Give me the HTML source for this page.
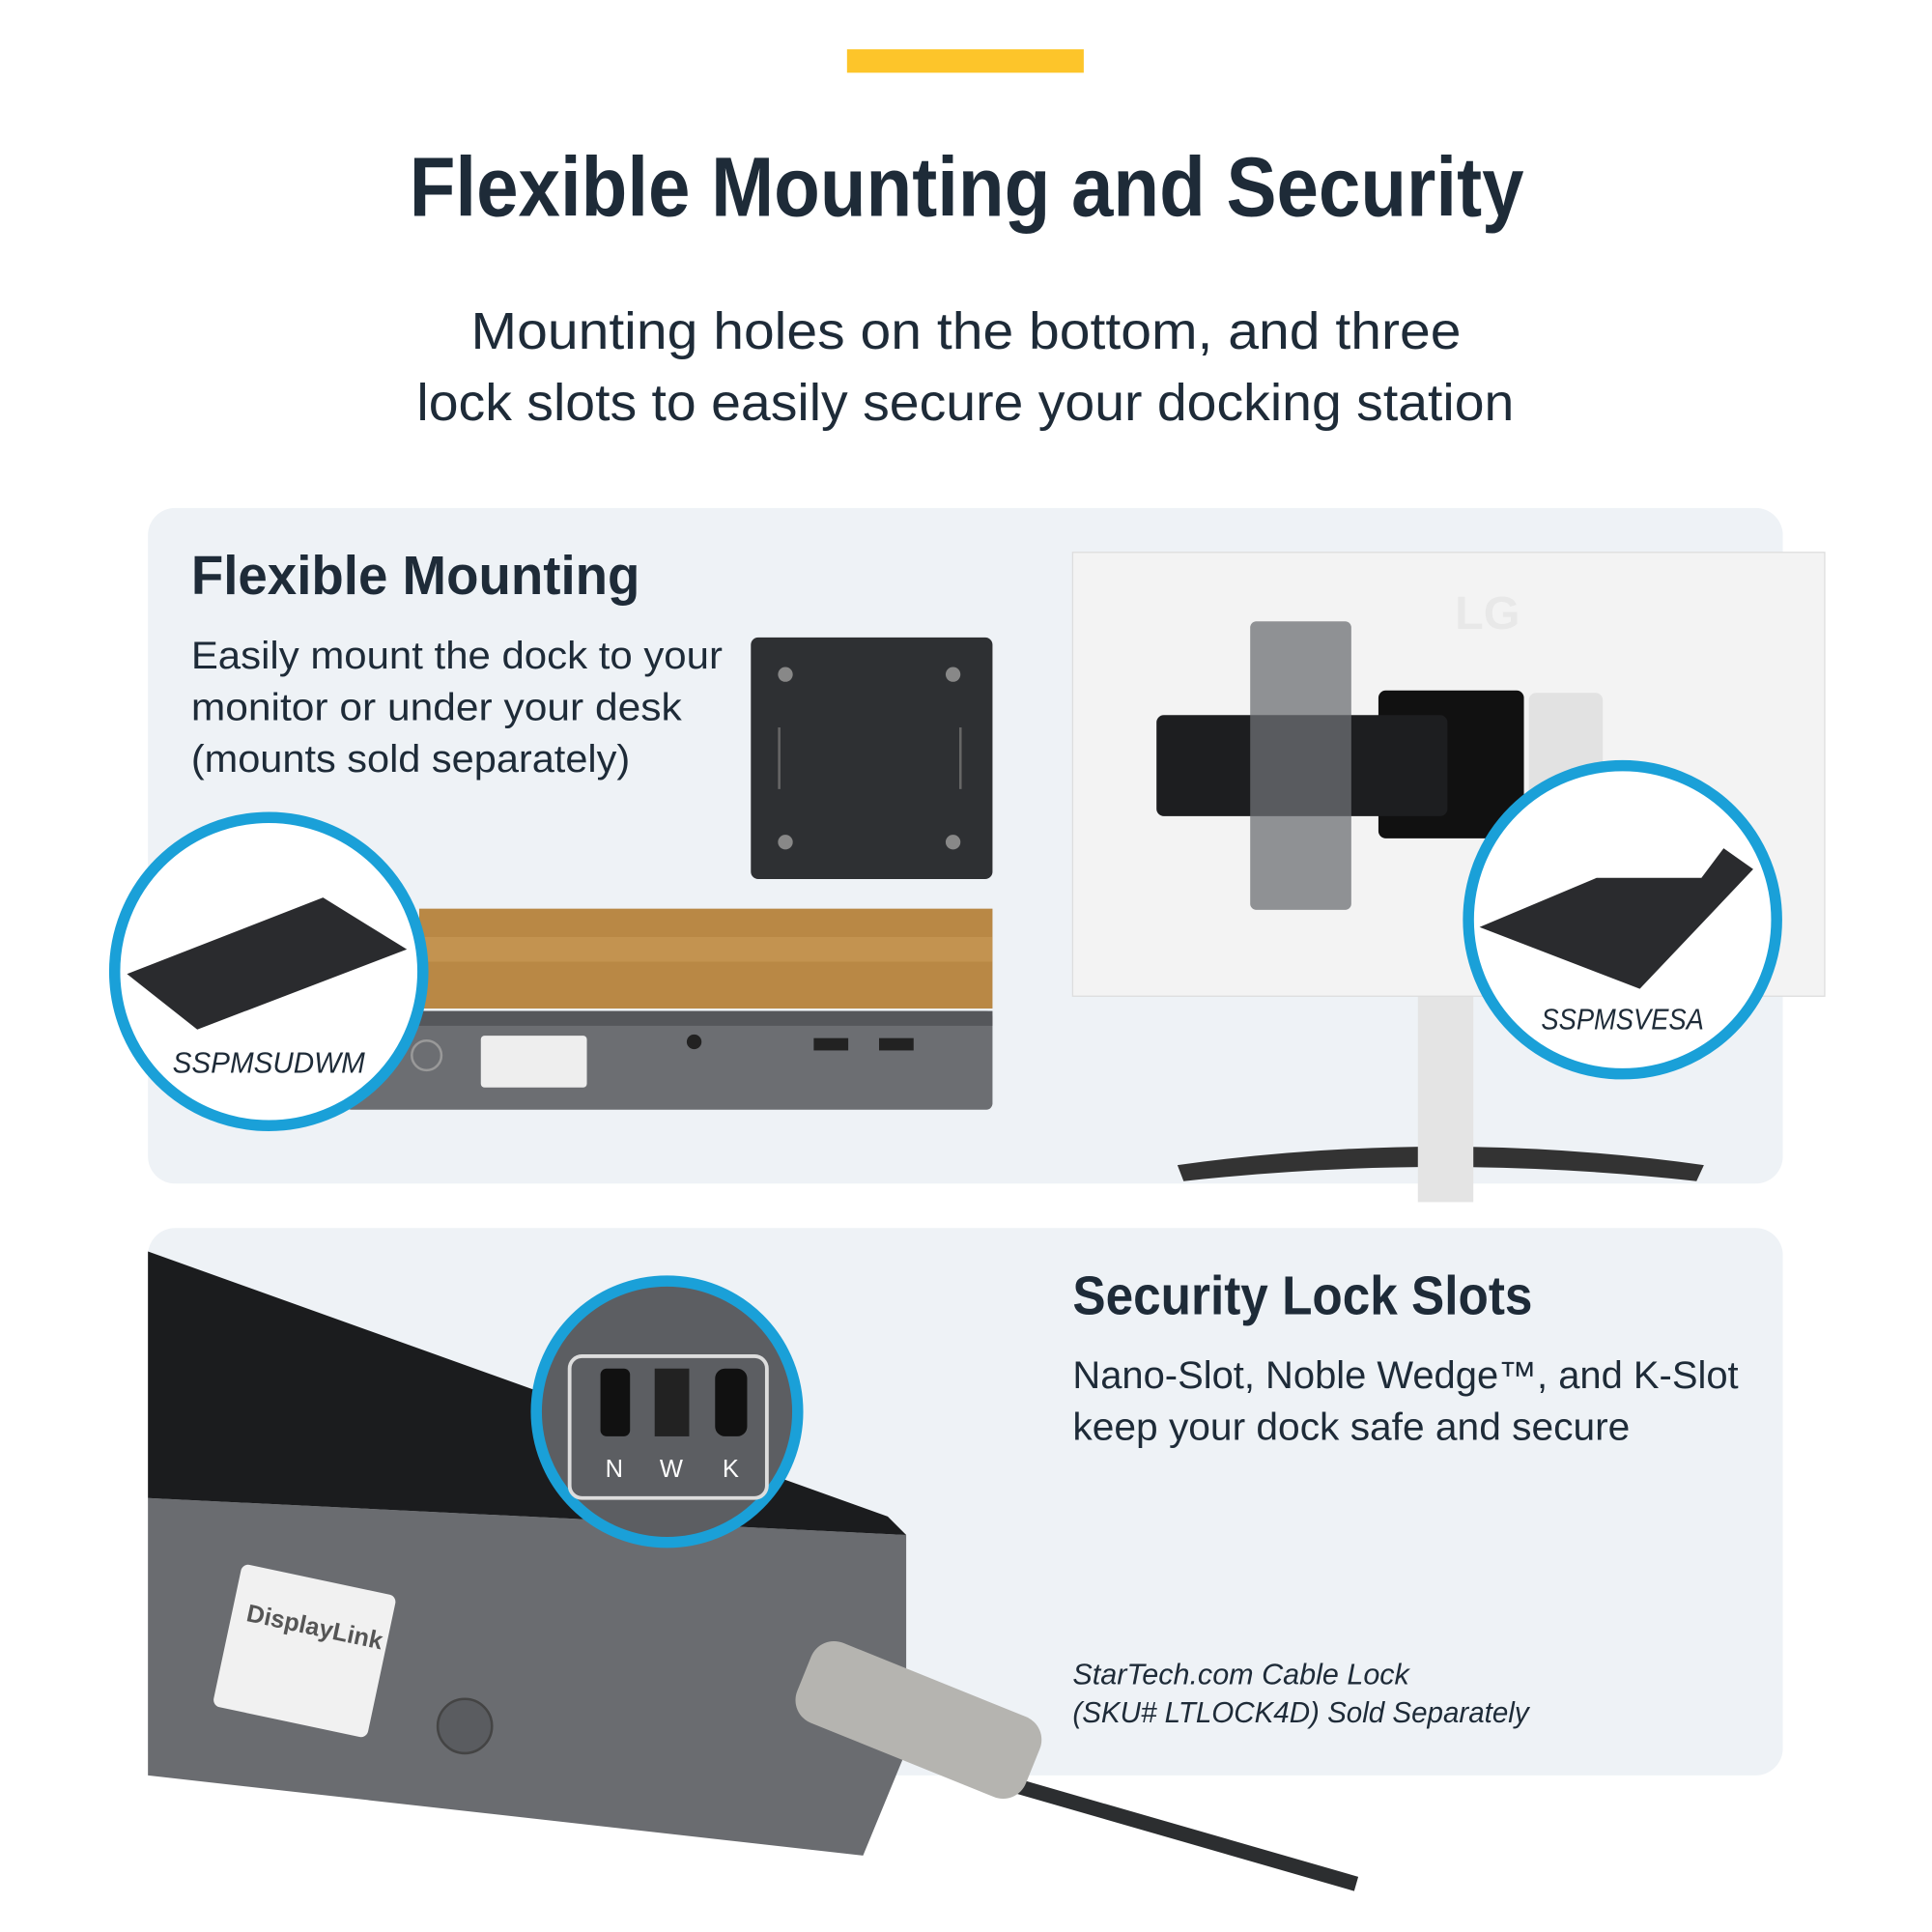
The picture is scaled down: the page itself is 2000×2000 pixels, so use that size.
<!DOCTYPE html>
<html><head><meta charset="utf-8"><style>
html,body{margin:0;padding:0;background:#fff;}
svg{display:block;}
text{font-family:"Liberation Sans",sans-serif;fill:#1e2b38;}
</style></head><body>
<svg width="2000" height="2000" viewBox="0 0 1567 1567" xmlns="http://www.w3.org/2000/svg">
<rect width="1567" height="1567" fill="#fff"/>
<rect x="687" y="40" width="192" height="19" fill="#fdc52a"/>
<text x="332" y="175" font-size="68" font-weight="bold" textLength="904" lengthAdjust="spacingAndGlyphs">Flexible Mounting and Security</text>
<text x="382" y="283" font-size="42" textLength="803" lengthAdjust="spacingAndGlyphs">Mounting holes on the bottom, and three</text>
<text x="338" y="341" font-size="42" textLength="890" lengthAdjust="spacingAndGlyphs">lock slots to easily secure your docking station</text>

<rect x="120" y="412" width="1326" height="548" rx="22" fill="#eef2f6"/>
<text x="155" y="482" font-size="44" font-weight="bold" textLength="364" lengthAdjust="spacingAndGlyphs">Flexible Mounting</text>
<text x="155" y="542" font-size="31" textLength="431" lengthAdjust="spacingAndGlyphs">Easily mount the dock to your</text>
<text x="155" y="584" font-size="31" textLength="398" lengthAdjust="spacingAndGlyphs">monitor or under your desk</text>
<text x="155" y="626" font-size="31" textLength="356" lengthAdjust="spacingAndGlyphs">(mounts sold separately)</text>
<rect x="609" y="517" width="196" height="196" rx="6" fill="#2e3033"/>
<circle cx="637" cy="547" r="6" fill="#888"/><circle cx="773" cy="547" r="6" fill="#888"/>
<circle cx="637" cy="683" r="6" fill="#888"/><circle cx="773" cy="683" r="6" fill="#888"/>
<line x1="632" y1="590" x2="632" y2="640" stroke="#666" stroke-width="2"/>
<line x1="779" y1="590" x2="779" y2="640" stroke="#666" stroke-width="2"/>
<rect x="340" y="737" width="465" height="81" fill="#b98845"/>
<rect x="340" y="760" width="465" height="20" fill="#c99b58" opacity="0.6"/>
<rect x="280" y="820" width="525" height="80" rx="5" fill="#6c6e72"/>
<rect x="280" y="820" width="525" height="12" fill="#55575b"/>
<circle cx="346" cy="856" r="12" fill="none" stroke="#999" stroke-width="2"/>
<rect x="390" y="840" width="86" height="42" rx="3" fill="#eee"/>
<rect x="660" y="842" width="28" height="10" fill="#222"/><rect x="713" y="842" width="28" height="10" fill="#222"/>
<circle cx="563" cy="845" r="6" fill="#222"/>
<circle cx="218" cy="788" r="125" fill="#fff" stroke="#1aa0d8" stroke-width="9"/>
<polygon points="103,790 262,728 330,770 160,835" fill="#2a2b2e"/>
<text x="218" y="870" font-size="24" font-style="italic" text-anchor="middle" textLength="156" lengthAdjust="spacingAndGlyphs">SSPMSUDWM</text>
<path d="M955 945 Q1170 915 1382 945 L1376 958 Q1170 935 960 958 Z" fill="#333"/>
<rect x="1150" y="808" width="45" height="167" fill="#e4e4e4"/>
<rect x="870" y="448" width="610" height="360" fill="#f3f3f3" stroke="#ddd"/>
<rect x="1118" y="560" width="118" height="120" rx="6" fill="#111"/>
<rect x="1240" y="562" width="60" height="90" rx="6" fill="#e2e2e2"/>
<rect x="938" y="580" width="236" height="82" rx="6" fill="#1d1e20"/>
<rect x="1014" y="504" width="82" height="234" rx="5" fill="#6e7074" opacity="0.75"/>
<text x="1180" y="510" font-size="38" font-weight="bold" style="fill:#e8e8e8">LG</text>
<circle cx="1316" cy="746" r="125" fill="#fff" stroke="#1aa0d8" stroke-width="9"/>
<polygon points="1200,752 1295,712 1380,712 1398,688 1422,705 1330,802" fill="#2a2b2e"/>
<text x="1316" y="835" font-size="24" font-style="italic" text-anchor="middle" textLength="132" lengthAdjust="spacingAndGlyphs">SSPMSVESA</text>

<rect x="120" y="996" width="1326" height="444" rx="22" fill="#eef2f6"/>
<text x="870" y="1066" font-size="44" font-weight="bold" textLength="373" lengthAdjust="spacingAndGlyphs">Security Lock Slots</text>
<text x="870" y="1126" font-size="31" textLength="540" lengthAdjust="spacingAndGlyphs">Nano-Slot, Noble Wedge™, and K-Slot</text>
<text x="870" y="1168" font-size="31" textLength="452" lengthAdjust="spacingAndGlyphs">keep your dock safe and secure</text>
<text x="870" y="1366" font-size="24" font-style="italic" textLength="273" lengthAdjust="spacingAndGlyphs">StarTech.com Cable Lock</text>
<text x="870" y="1397" font-size="24" font-style="italic" textLength="370" lengthAdjust="spacingAndGlyphs">(SKU# LTLOCK4D) Sold Separately</text>
<polygon points="120,1215 735,1245 735,1420 700,1505 120,1440" fill="#6a6c70"/>
<polygon points="120,1015 720,1230 735,1245 120,1215" fill="#1b1c1e"/>
<rect x="183" y="1280" width="128" height="118" rx="6" fill="#f1f1f1" transform="rotate(12 247 1339)"/>
<text x="195" y="1325" font-size="20" font-weight="bold" style="fill:#555" transform="rotate(12 247 1339)">DisplayLink</text>
<circle cx="377" cy="1400" r="22" fill="#5a5c60" stroke="#444" stroke-width="2"/>
<line x1="760" y1="1430" x2="1100" y2="1528" stroke="#2c2e30" stroke-width="12"/>
<rect x="645" y="1360" width="200" height="70" rx="20" fill="#b5b4b0" transform="rotate(22 745 1395)"/>
<circle cx="541" cy="1145" r="106" fill="#5c5e62" stroke="#1aa0d8" stroke-width="9"/>
<rect x="462" y="1100" width="160" height="115" rx="10" fill="none" stroke="#ddd" stroke-width="3"/>
<rect x="487" y="1110" width="24" height="55" rx="5" fill="#111"/>
<rect x="531" y="1110" width="28" height="55" fill="#222"/>
<rect x="580" y="1110" width="26" height="55" rx="8" fill="#111"/>
<text x="491" y="1198" font-size="20" style="fill:#fff">N</text>
<text x="535" y="1198" font-size="20" style="fill:#fff">W</text>
<text x="586" y="1198" font-size="20" style="fill:#fff">K</text>
</svg>
</body></html>
